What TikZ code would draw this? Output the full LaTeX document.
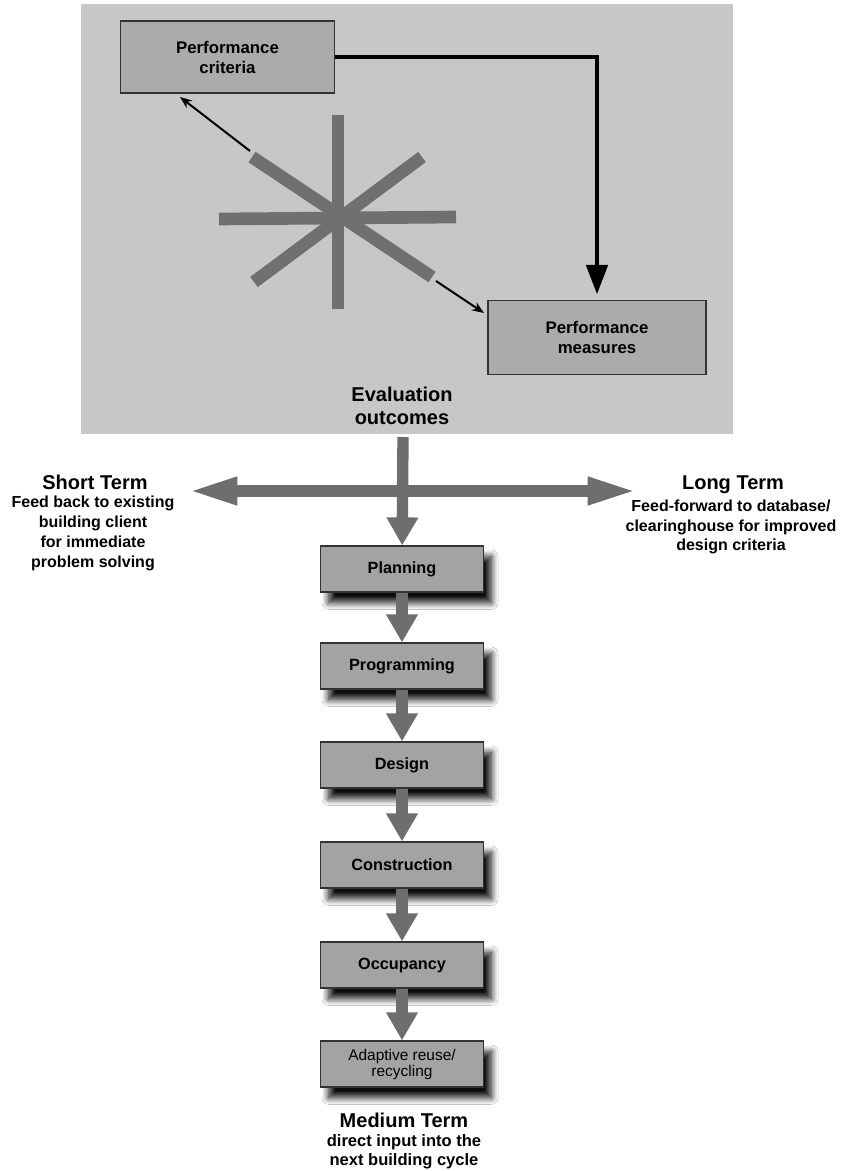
\documentclass[tikz,border=0pt]{standalone}
\usepackage{fontspec}
\setmainfont{Liberation Sans}
\usetikzlibrary{arrows.meta,shadows.blur}
\tikzstyle{boxtop}=[draw=black!80,fill=black!33,line width=0.9pt,align=center,minimum width=160pt,minimum height=54pt,inner sep=0pt,font=\bfseries\fontsize{12.6}{15}\selectfont]
\tikzstyle{boxstage}=[draw=black!80,fill=black!36,line width=0.9pt,align=center,minimum width=122pt,minimum height=34.5pt,inner sep=0pt,font=\bfseries\fontsize{12.2}{14}\selectfont,blur shadow={shadow xshift=6pt,shadow yshift=-8pt,shadow blur radius=5pt,shadow blur steps=12,shadow opacity=95}]
\tikzstyle{starbar}=[draw=black!56,line width=9.5pt]
\tikzstyle{thinarrow}=[draw=black,line width=1.5pt,-{Stealth[length=9pt,width=7pt]}]
\tikzstyle{feedline}=[draw=black,line width=3pt,-{Triangle[length=22pt,width=16pt]}]
\tikzstyle{flowarrow}=[draw=black!57,line width=8.5pt,-{Triangle[length=21pt,width=22.5pt]}]
\tikzstyle{headtext}=[align=center,font=\bfseries\fontsize{15}{17}\selectfont]
\tikzstyle{subtext}=[align=center,font=\bfseries\fontsize{12}{15}\selectfont]

\begin{document}
\begin{tikzpicture}[x=0.75pt,y=-0.75pt]
    \useasboundingbox (0,0) rectangle (852,1171);
    \fill[white] (0,0) rectangle (852,1171);
    \fill[black!22] (81,4) rectangle (733,434);

    \node[boxtop] (crit) at (227.5,57) {Performance\\criteria};
    \node[boxtop,minimum width=163.5pt,minimum height=55pt] (meas) at (597,337.5) {Performance\\measures};
    \node[headtext] (eval) at (402,406) {Evaluation\\outcomes};

    \coordinate (starN) at (338,115);
    \coordinate (starS) at (338,309);
    \coordinate (starW) at (219,219);
    \coordinate (starE) at (456,217);
    \coordinate (starNW) at (252,157);
    \coordinate (starSE) at (432,277);
    \coordinate (starSW) at (254,282);
    \coordinate (starNE) at (422,157);
    \foreach \from/\to in {starN/starS,starW/starE,starNW/starSE,starSW/starNE}
    \draw[starbar] (\from) -- (\to);

    \coordinate (armout1) at (250,151);
    \coordinate (critin) at (180,97);
    \coordinate (armout2) at (436,281);
    \coordinate (measin) at (484,313);
    \draw[thinarrow] (armout1) -- (critin);
    \draw[thinarrow] (armout2) -- (measin);
    \draw[feedline,shorten >=4.5pt] (crit.east) -| (meas.north);

    \node[boxstage] (plan) at (402,569) {Planning};
    \node[boxstage] (prog) at (402,666) {Programming};
    \node[boxstage] (desi) at (402,765) {Design};
    \node[boxstage] (cons) at (402,865) {Construction};
    \node[boxstage] (occu) at (402,965) {Occupancy};
    \node[boxstage,font=\fontsize{11.6}{12}\selectfont] (reuse) at (402,1064) {Adaptive reuse/\\recycling};

    \coordinate (evalout) at (403,437);
    \coordinate (shortend) at (188,491);
    \coordinate (longend) at (637,491);
    \draw[flowarrow,{Triangle[length=37pt,width=19pt]}-{Triangle[length=37pt,width=19pt]}] (shortend) -- (longend);
    \draw[flowarrow] (evalout) -- (plan);
    \foreach \from/\to in {plan/prog,prog/desi,desi/cons,cons/occu,occu/reuse}
    \draw[flowarrow] (\from) -- (\to);

    \node[headtext] (shorthead) at (95,482) {Short Term};
    \node[subtext] (shorttext) at (93,533) {Feed back to existing\\building client\\for immediate\\problem solving};
    \node[headtext] (longhead) at (733,485) {Long Term};
    \node[subtext,font=\bfseries\fontsize{12}{14.6}\selectfont] (longtext) at (731,527) {Feed-forward to database/\\clearinghouse for improved\\design criteria};
    \node[headtext] (medhead) at (404,1120) {Medium Term};
    \node[subtext,font=\bfseries\fontsize{12.4}{14.3}\selectfont] (medtext) at (404,1151.5) {direct input into the\\next building cycle};
\end{tikzpicture}
\end{document}
